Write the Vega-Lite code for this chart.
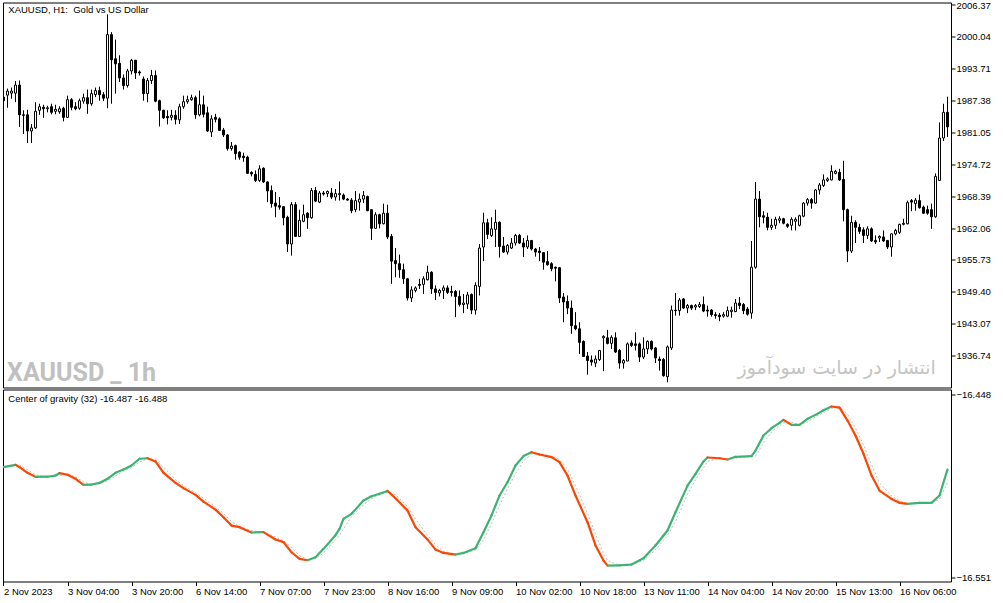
{
  "$schema": "https://vega.github.io/schema/vega-lite/v6.json",
  "background": "white",
  "padding": {"left": 2, "top": -0.5, "right": 0, "bottom": 0},
  "spacing": 2,
  "bounds": "flush",
  "config": {
    "view": {"stroke": "#000", "strokeWidth": 1},
    "font": "Liberation Sans",
    "axis": {"labelFont": "Liberation Sans", "labelFontSize": 9.5, "labelColor": "#000", "tickColor": "#000", "domain": false, "grid": false, "title": null, "labelOverlap": false, "labelFlush": false}
  },
  "datasets": {
    "candles": [
      {"t":0,"o":1988.0,"h":1988.5,"l":1986.7,"c":1987.3},{"t":1,"o":1988.4,"h":1989.7,"l":1985.9,"c":1989.2},{"t":2,"o":1988.8,"h":1989.9,"l":1987.7,"c":1989.2},{"t":3,"o":1988.8,"h":1991.2,"l":1987.0,"c":1990.4},
      {"t":4,"o":1990.4,"h":1991.3,"l":1982.1,"c":1984.5},{"t":5,"o":1984.5,"h":1985.4,"l":1980.7,"c":1984.4},{"t":6,"o":1984.5,"h":1985.5,"l":1978.9,"c":1981.3},{"t":7,"o":1981.3,"h":1982.7,"l":1978.9,"c":1981.9},
      {"t":8,"o":1981.9,"h":1987.0,"l":1981.7,"c":1985.2},{"t":9,"o":1985.4,"h":1986.7,"l":1984.5,"c":1986.1},{"t":10,"o":1986.0,"h":1986.5,"l":1983.9,"c":1985.7},{"t":11,"o":1985.7,"h":1986.3,"l":1985.0,"c":1985.9},
      {"t":12,"o":1986.1,"h":1986.7,"l":1984.6,"c":1985.0},{"t":13,"o":1985.2,"h":1986.5,"l":1984.6,"c":1985.6},{"t":14,"o":1985.1,"h":1986.2,"l":1984.7,"c":1985.7},{"t":15,"o":1985.8,"h":1986.1,"l":1983.2,"c":1984.0},
      {"t":16,"o":1984.0,"h":1988.3,"l":1983.9,"c":1987.5},{"t":17,"o":1987.5,"h":1987.8,"l":1985.4,"c":1986.0},{"t":18,"o":1986.1,"h":1987.0,"l":1985.4,"c":1985.7},{"t":19,"o":1985.8,"h":1987.7,"l":1985.5,"c":1987.3},
      {"t":20,"o":1987.2,"h":1988.7,"l":1986.7,"c":1987.9},{"t":21,"o":1987.9,"h":1989.5,"l":1984.7,"c":1986.7},{"t":22,"o":1986.7,"h":1989.5,"l":1986.3,"c":1988.7},{"t":23,"o":1988.5,"h":1989.9,"l":1988.0,"c":1989.3},
      {"t":24,"o":1989.3,"h":1990.1,"l":1987.3,"c":1988.5},{"t":25,"o":1988.5,"h":1989.0,"l":1987.2,"c":1987.8},{"t":26,"o":1987.8,"h":2004.4,"l":1985.8,"c":2000.4},{"t":27,"o":2000.4,"h":2000.9,"l":1986.7,"c":1995.4},
      {"t":28,"o":1995.6,"h":1999.4,"l":1988.7,"c":1994.6},{"t":29,"o":1994.7,"h":1996.3,"l":1991.0,"c":1991.8},{"t":30,"o":1991.8,"h":1992.5,"l":1989.5,"c":1990.3},{"t":31,"o":1990.3,"h":1993.6,"l":1989.9,"c":1993.2},
      {"t":32,"o":1993.2,"h":1995.6,"l":1992.5,"c":1995.3},{"t":33,"o":1995.3,"h":1995.4,"l":1991.6,"c":1992.8},{"t":34,"o":1993.0,"h":1993.3,"l":1992.3,"c":1992.8},{"t":35,"o":1991.6,"h":1992.1,"l":1987.3,"c":1988.7},
      {"t":36,"o":1988.7,"h":1991.8,"l":1987.0,"c":1991.3},{"t":37,"o":1991.3,"h":1993.4,"l":1990.6,"c":1992.3},{"t":38,"o":1992.3,"h":1993.3,"l":1987.0,"c":1987.2},{"t":39,"o":1987.3,"h":1987.5,"l":1982.2,"c":1985.4},
      {"t":40,"o":1985.4,"h":1985.5,"l":1983.7,"c":1983.9},{"t":41,"o":1984.2,"h":1985.4,"l":1982.6,"c":1983.9},{"t":42,"o":1984.0,"h":1985.5,"l":1983.4,"c":1984.4},{"t":43,"o":1984.4,"h":1985.4,"l":1982.6,"c":1983.6},
      {"t":44,"o":1983.5,"h":1986.7,"l":1982.7,"c":1986.1},{"t":45,"o":1986.1,"h":1988.3,"l":1985.7,"c":1987.1},{"t":46,"o":1987.1,"h":1988.3,"l":1986.7,"c":1987.5},{"t":47,"o":1987.5,"h":1988.5,"l":1987.3,"c":1987.9},
      {"t":48,"o":1987.9,"h":1988.3,"l":1983.7,"c":1984.5},{"t":49,"o":1984.5,"h":1989.3,"l":1984.2,"c":1986.5},{"t":50,"o":1986.5,"h":1988.3,"l":1984.0,"c":1984.6},{"t":51,"o":1984.9,"h":1986.1,"l":1981.1,"c":1981.3},
      {"t":52,"o":1981.1,"h":1984.4,"l":1980.1,"c":1983.7},{"t":53,"o":1984.0,"h":1984.7,"l":1983.0,"c":1983.6},{"t":54,"o":1983.7,"h":1984.0,"l":1981.3,"c":1981.4},{"t":55,"o":1981.5,"h":1981.9,"l":1980.1,"c":1980.5},
      {"t":56,"o":1980.5,"h":1980.7,"l":1977.4,"c":1977.8},{"t":57,"o":1977.8,"h":1979.1,"l":1977.4,"c":1978.3},{"t":58,"o":1978.4,"h":1978.6,"l":1975.6,"c":1976.8},{"t":59,"o":1977.1,"h":1977.3,"l":1975.6,"c":1976.1},
      {"t":60,"o":1976.3,"h":1977.0,"l":1975.2,"c":1976.0},{"t":61,"o":1976.1,"h":1976.4,"l":1972.8,"c":1972.9},{"t":62,"o":1973.1,"h":1973.3,"l":1972.3,"c":1972.8},{"t":63,"o":1972.7,"h":1973.5,"l":1971.2,"c":1971.5},
      {"t":64,"o":1971.5,"h":1974.5,"l":1971.2,"c":1973.8},{"t":65,"o":1973.9,"h":1974.1,"l":1971.0,"c":1971.2},{"t":66,"o":1971.2,"h":1971.3,"l":1967.2,"c":1969.4},{"t":67,"o":1969.5,"h":1970.5,"l":1966.1,"c":1966.9},
      {"t":68,"o":1967.0,"h":1969.2,"l":1964.2,"c":1966.4},{"t":69,"o":1966.5,"h":1968.2,"l":1965.7,"c":1966.2},{"t":70,"o":1966.3,"h":1966.4,"l":1962.6,"c":1964.1},{"t":71,"o":1964.2,"h":1964.5,"l":1957.3,"c":1958.9},
      {"t":72,"o":1958.9,"h":1967.2,"l":1956.6,"c":1966.7},{"t":73,"o":1966.7,"h":1967.2,"l":1960.3,"c":1960.4},{"t":74,"o":1960.4,"h":1965.7,"l":1960.3,"c":1963.6},{"t":75,"o":1963.4,"h":1966.7,"l":1963.2,"c":1964.7},
      {"t":76,"o":1965.0,"h":1965.2,"l":1961.9,"c":1964.1},{"t":77,"o":1964.1,"h":1970.0,"l":1963.9,"c":1969.5},{"t":78,"o":1969.5,"h":1970.2,"l":1967.2,"c":1967.4},{"t":79,"o":1967.2,"h":1969.4,"l":1967.0,"c":1969.0},
      {"t":80,"o":1969.0,"h":1969.4,"l":1968.5,"c":1968.8},{"t":81,"o":1968.9,"h":1969.5,"l":1968.2,"c":1969.3},{"t":82,"o":1969.0,"h":1970.0,"l":1967.8,"c":1968.2},{"t":83,"o":1968.2,"h":1969.8,"l":1967.5,"c":1968.9},
      {"t":84,"o":1968.7,"h":1971.3,"l":1967.5,"c":1968.9},{"t":85,"o":1968.6,"h":1968.9,"l":1967.6,"c":1967.8},{"t":86,"o":1967.8,"h":1968.0,"l":1967.5,"c":1967.6},{"t":87,"o":1967.6,"h":1968.0,"l":1965.0,"c":1965.5},
      {"t":88,"o":1965.7,"h":1969.4,"l":1965.2,"c":1967.5},{"t":89,"o":1967.2,"h":1968.9,"l":1965.5,"c":1967.8},{"t":90,"o":1967.8,"h":1969.4,"l":1967.0,"c":1968.5},{"t":91,"o":1968.3,"h":1968.5,"l":1965.4,"c":1965.5},
      {"t":92,"o":1965.7,"h":1965.7,"l":1959.7,"c":1962.0},{"t":93,"o":1962.0,"h":1965.2,"l":1961.9,"c":1964.7},{"t":94,"o":1964.7,"h":1964.9,"l":1962.0,"c":1962.9},{"t":95,"o":1962.9,"h":1966.9,"l":1962.8,"c":1965.0},
      {"t":96,"o":1965.0,"h":1966.7,"l":1959.9,"c":1960.3},{"t":97,"o":1960.4,"h":1960.9,"l":1951.0,"c":1955.5},{"t":98,"o":1955.6,"h":1958.1,"l":1952.3,"c":1955.0},{"t":99,"o":1955.0,"h":1956.8,"l":1952.2,"c":1953.8},
      {"t":100,"o":1953.8,"h":1955.0,"l":1951.0,"c":1952.0},{"t":101,"o":1952.0,"h":1952.1,"l":1947.7,"c":1948.2},{"t":102,"o":1948.2,"h":1950.5,"l":1947.4,"c":1949.8},{"t":103,"o":1949.7,"h":1950.5,"l":1949.3,"c":1950.2},
      {"t":104,"o":1950.9,"h":1952.0,"l":1950.0,"c":1950.7},{"t":105,"o":1950.9,"h":1952.5,"l":1949.0,"c":1952.0},{"t":106,"o":1951.8,"h":1954.6,"l":1951.7,"c":1953.3},{"t":107,"o":1953.3,"h":1953.5,"l":1949.0,"c":1950.0},
      {"t":108,"o":1950.0,"h":1950.7,"l":1947.8,"c":1949.3},{"t":109,"o":1949.2,"h":1950.0,"l":1948.5,"c":1949.7},{"t":110,"o":1949.7,"h":1950.7,"l":1948.0,"c":1950.2},{"t":111,"o":1950.2,"h":1950.7,"l":1949.0,"c":1949.3},
      {"t":112,"o":1949.5,"h":1950.6,"l":1948.5,"c":1949.3},{"t":113,"o":1949.5,"h":1949.8,"l":1944.4,"c":1948.5},{"t":114,"o":1948.5,"h":1949.7,"l":1946.5,"c":1946.9},{"t":115,"o":1946.9,"h":1949.0,"l":1945.2,"c":1947.2},
      {"t":116,"o":1947.0,"h":1949.4,"l":1946.0,"c":1948.8},{"t":117,"o":1948.9,"h":1949.1,"l":1945.0,"c":1945.8},{"t":118,"o":1945.8,"h":1951.3,"l":1944.9,"c":1950.7},{"t":119,"o":1950.5,"h":1958.9,"l":1948.7,"c":1958.1},
      {"t":120,"o":1958.3,"h":1965.1,"l":1955.5,"c":1963.1},{"t":121,"o":1963.1,"h":1963.9,"l":1959.9,"c":1960.8},{"t":122,"o":1960.6,"h":1964.2,"l":1960.3,"c":1961.9},{"t":123,"o":1961.8,"h":1965.7,"l":1958.3,"c":1963.2},
      {"t":124,"o":1963.2,"h":1963.4,"l":1956.2,"c":1958.4},{"t":125,"o":1958.5,"h":1960.3,"l":1957.1,"c":1957.3},{"t":126,"o":1957.3,"h":1958.9,"l":1956.8,"c":1958.6},{"t":127,"o":1958.1,"h":1960.1,"l":1957.9,"c":1959.1},
      {"t":128,"o":1959.1,"h":1960.9,"l":1958.6,"c":1960.6},{"t":129,"o":1960.6,"h":1960.9,"l":1958.9,"c":1959.1},{"t":130,"o":1959.1,"h":1960.1,"l":1956.3,"c":1958.3},{"t":131,"o":1958.3,"h":1960.6,"l":1957.9,"c":1959.6},
      {"t":132,"o":1959.6,"h":1959.7,"l":1957.6,"c":1957.9},{"t":133,"o":1957.9,"h":1958.1,"l":1956.4,"c":1957.3},{"t":134,"o":1957.5,"h":1958.3,"l":1955.5,"c":1957.2},{"t":135,"o":1957.2,"h":1957.3,"l":1953.8,"c":1955.3},
      {"t":136,"o":1955.4,"h":1957.5,"l":1954.6,"c":1954.8},{"t":137,"o":1955.0,"h":1955.3,"l":1953.5,"c":1954.0},{"t":138,"o":1954.3,"h":1954.4,"l":1951.5,"c":1954.1},{"t":139,"o":1954.2,"h":1954.3,"l":1947.2,"c":1948.2},
      {"t":140,"o":1948.4,"h":1949.2,"l":1943.4,"c":1947.4},{"t":141,"o":1947.5,"h":1948.7,"l":1945.0,"c":1946.2},{"t":142,"o":1946.2,"h":1947.7,"l":1941.1,"c":1942.7},{"t":143,"o":1942.7,"h":1945.4,"l":1941.8,"c":1942.1},
      {"t":144,"o":1942.1,"h":1943.4,"l":1937.1,"c":1939.4},{"t":145,"o":1939.6,"h":1939.8,"l":1936.5,"c":1936.6},{"t":146,"o":1936.7,"h":1937.5,"l":1933.0,"c":1935.8},{"t":147,"o":1935.9,"h":1936.8,"l":1934.8,"c":1935.5},
      {"t":148,"o":1935.3,"h":1936.8,"l":1934.5,"c":1936.1},{"t":149,"o":1936.0,"h":1937.9,"l":1935.7,"c":1937.8},{"t":150,"o":1940.3,"h":1940.8,"l":1933.7,"c":1940.6},{"t":151,"o":1940.3,"h":1941.9,"l":1939.0,"c":1939.2},
      {"t":152,"o":1939.2,"h":1940.8,"l":1938.1,"c":1940.4},{"t":153,"o":1940.3,"h":1941.4,"l":1937.3,"c":1937.5},{"t":154,"o":1937.8,"h":1938.1,"l":1934.2,"c":1935.3},{"t":155,"o":1935.3,"h":1936.1,"l":1934.2,"c":1935.8},
      {"t":156,"o":1935.7,"h":1939.4,"l":1935.7,"c":1939.1},{"t":157,"o":1939.3,"h":1939.8,"l":1938.5,"c":1938.8},{"t":158,"o":1939.1,"h":1941.4,"l":1937.8,"c":1938.8},{"t":159,"o":1939.1,"h":1939.4,"l":1935.5,"c":1936.5},
      {"t":160,"o":1936.5,"h":1940.4,"l":1936.1,"c":1938.1},{"t":161,"o":1938.1,"h":1939.8,"l":1937.1,"c":1939.6},{"t":162,"o":1939.6,"h":1939.8,"l":1937.8,"c":1938.1},{"t":163,"o":1938.3,"h":1938.5,"l":1935.3,"c":1936.3},
      {"t":164,"o":1936.1,"h":1936.6,"l":1933.8,"c":1935.8},{"t":165,"o":1936.0,"h":1936.3,"l":1932.6,"c":1932.8},{"t":166,"o":1932.6,"h":1938.8,"l":1931.5,"c":1938.5},{"t":167,"o":1938.3,"h":1946.7,"l":1937.9,"c":1945.8},
      {"t":168,"o":1945.8,"h":1949.2,"l":1944.7,"c":1945.7},{"t":169,"o":1945.7,"h":1948.2,"l":1944.7,"c":1947.8},{"t":170,"o":1948.0,"h":1948.2,"l":1946.0,"c":1946.2},{"t":171,"o":1946.2,"h":1947.0,"l":1945.2,"c":1946.7},
      {"t":172,"o":1946.7,"h":1946.9,"l":1945.8,"c":1946.2},{"t":173,"o":1946.4,"h":1947.0,"l":1945.8,"c":1946.7},{"t":174,"o":1946.5,"h":1947.4,"l":1946.2,"c":1946.9},{"t":175,"o":1946.9,"h":1948.5,"l":1945.4,"c":1945.6},
      {"t":176,"o":1945.8,"h":1946.7,"l":1944.5,"c":1945.6},{"t":177,"o":1945.8,"h":1946.0,"l":1944.5,"c":1944.9},{"t":178,"o":1944.9,"h":1945.4,"l":1944.1,"c":1944.7},{"t":179,"o":1944.8,"h":1945.2,"l":1943.6,"c":1944.5},
      {"t":180,"o":1944.6,"h":1945.4,"l":1944.3,"c":1944.9},{"t":181,"o":1944.6,"h":1946.5,"l":1944.4,"c":1945.7},{"t":182,"o":1945.5,"h":1946.5,"l":1944.3,"c":1945.8},{"t":183,"o":1945.5,"h":1948.0,"l":1945.4,"c":1947.2},
      {"t":184,"o":1947.2,"h":1948.4,"l":1946.0,"c":1946.7},{"t":185,"o":1946.9,"h":1947.2,"l":1945.0,"c":1945.7},{"t":186,"o":1946.0,"h":1946.4,"l":1944.7,"c":1945.0},{"t":187,"o":1945.2,"h":1959.5,"l":1944.1,"c":1954.3},
      {"t":188,"o":1954.3,"h":1971.2,"l":1954.0,"c":1967.8},{"t":189,"o":1967.8,"h":1969.4,"l":1962.2,"c":1964.3},{"t":190,"o":1964.5,"h":1965.4,"l":1963.0,"c":1964.2},{"t":191,"o":1964.2,"h":1965.1,"l":1961.6,"c":1962.2},
      {"t":192,"o":1962.2,"h":1963.9,"l":1961.7,"c":1962.6},{"t":193,"o":1962.6,"h":1964.3,"l":1961.9,"c":1963.8},{"t":194,"o":1963.6,"h":1964.4,"l":1963.0,"c":1963.9},{"t":195,"o":1963.9,"h":1964.1,"l":1962.8,"c":1963.0},
      {"t":196,"o":1962.8,"h":1963.0,"l":1962.1,"c":1962.4},{"t":197,"o":1962.6,"h":1964.2,"l":1961.6,"c":1963.8},{"t":198,"o":1963.4,"h":1964.2,"l":1961.6,"c":1963.8},{"t":199,"o":1962.6,"h":1964.7,"l":1962.4,"c":1964.5},
      {"t":200,"o":1964.4,"h":1967.2,"l":1964.2,"c":1967.0},{"t":201,"o":1967.0,"h":1968.0,"l":1966.5,"c":1967.7},{"t":202,"o":1967.7,"h":1968.0,"l":1965.9,"c":1967.0},{"t":203,"o":1967.0,"h":1969.8,"l":1966.9,"c":1969.6},
      {"t":204,"o":1969.6,"h":1971.0,"l":1968.7,"c":1970.6},{"t":205,"o":1970.5,"h":1972.7,"l":1970.2,"c":1971.6},{"t":206,"o":1971.5,"h":1972.1,"l":1971.2,"c":1971.8},{"t":207,"o":1971.6,"h":1974.5,"l":1971.5,"c":1973.3},
      {"t":208,"o":1972.9,"h":1973.6,"l":1972.7,"c":1973.3},{"t":209,"o":1973.1,"h":1973.8,"l":1971.4,"c":1971.6},{"t":210,"o":1971.7,"h":1975.4,"l":1963.4,"c":1965.7},{"t":211,"o":1965.7,"h":1965.9,"l":1955.3,"c":1957.5},
      {"t":212,"o":1957.5,"h":1964.5,"l":1957.1,"c":1963.2},{"t":213,"o":1963.2,"h":1963.6,"l":1959.1,"c":1962.2},{"t":214,"o":1962.2,"h":1962.9,"l":1960.9,"c":1961.4},{"t":215,"o":1961.7,"h":1962.2,"l":1959.1,"c":1960.6},
      {"t":216,"o":1960.6,"h":1962.4,"l":1959.9,"c":1961.9},{"t":217,"o":1961.9,"h":1962.2,"l":1959.3,"c":1959.5},{"t":218,"o":1959.6,"h":1960.6,"l":1958.9,"c":1959.3},{"t":219,"o":1960.1,"h":1960.6,"l":1959.3,"c":1960.4},
      {"t":220,"o":1960.3,"h":1961.6,"l":1959.3,"c":1959.5},{"t":221,"o":1959.6,"h":1959.7,"l":1957.9,"c":1958.3},{"t":222,"o":1958.3,"h":1961.0,"l":1956.4,"c":1960.9},{"t":223,"o":1960.9,"h":1961.9,"l":1960.6,"c":1961.6},
      {"t":224,"o":1961.2,"h":1962.9,"l":1960.9,"c":1962.8},{"t":225,"o":1962.8,"h":1963.9,"l":1962.6,"c":1963.0},{"t":226,"o":1962.9,"h":1967.5,"l":1962.8,"c":1967.1},{"t":227,"o":1967.5,"h":1967.8,"l":1965.4,"c":1967.2},
      {"t":228,"o":1966.9,"h":1968.0,"l":1965.5,"c":1967.6},{"t":229,"o":1967.5,"h":1968.7,"l":1965.9,"c":1966.1},{"t":230,"o":1966.2,"h":1966.5,"l":1964.9,"c":1965.0},{"t":231,"o":1965.7,"h":1966.5,"l":1964.7,"c":1965.0},
      {"t":232,"o":1965.7,"h":1966.9,"l":1961.9,"c":1964.3},{"t":233,"o":1964.3,"h":1972.9,"l":1964.1,"c":1972.3},{"t":234,"o":1971.5,"h":1983.0,"l":1971.5,"c":1979.9},{"t":235,"o":1979.9,"h":1986.7,"l":1979.3,"c":1985.0},
      {"t":236,"o":1985.0,"h":1988.1,"l":1980.1,"c":1982.1}
    ],
    "cog": [
      {"t":0,"v":-16.4887,"s":-16.4885},{"t":3,"v":-16.4874,"s":-16.4878},{"t":4,"v":-16.4887,"s":-16.4874},{"t":6,"v":-16.4919,"s":-16.4903},
      {"t":8,"v":-16.4942,"s":-16.4931},{"t":11,"v":-16.4941,"s":-16.4941},{"t":13,"v":-16.4934,"s":-16.4938},{"t":14,"v":-16.4921,"s":-16.4934},
      {"t":16,"v":-16.4930,"s":-16.4926},{"t":18,"v":-16.4953,"s":-16.4942},{"t":20,"v":-16.4987,"s":-16.4970},{"t":22,"v":-16.4985,"s":-16.4986},
      {"t":24,"v":-16.4976,"s":-16.4981},{"t":26,"v":-16.4953,"s":-16.4965},{"t":28,"v":-16.4919,"s":-16.4936},{"t":30,"v":-16.4900,"s":-16.4910},
      {"t":32,"v":-16.4878,"s":-16.4889},{"t":34,"v":-16.4840,"s":-16.4859},{"t":36,"v":-16.4837,"s":-16.4839},{"t":38,"v":-16.4855,"s":-16.4846},
      {"t":40,"v":-16.4919,"s":-16.4887},{"t":43,"v":-16.4976,"s":-16.4957},{"t":45,"v":-16.5005,"s":-16.4991},{"t":48,"v":-16.5043,"s":-16.5030},
      {"t":50,"v":-16.5081,"s":-16.5062},{"t":53,"v":-16.5126,"s":-16.5111},{"t":55,"v":-16.5169,"s":-16.5148},{"t":57,"v":-16.5216,"s":-16.5193},
      {"t":59,"v":-16.5225,"s":-16.5221},{"t":62,"v":-16.5255,"s":-16.5245},{"t":65,"v":-16.5253,"s":-16.5254},{"t":68,"v":-16.5294,"s":-16.5280},
      {"t":70,"v":-16.5309,"s":-16.5302},{"t":72,"v":-16.5366,"s":-16.5338},{"t":74,"v":-16.5403,"s":-16.5385},{"t":76,"v":-16.5411,"s":-16.5407},
      {"t":78,"v":-16.5394,"s":-16.5403},{"t":80,"v":-16.5347,"s":-16.5371},{"t":83,"v":-16.5270,"s":-16.5296},{"t":84,"v":-16.5235,"s":-16.5270},
      {"t":85,"v":-16.5178,"s":-16.5235},{"t":87,"v":-16.5150,"s":-16.5164},{"t":90,"v":-16.5075,"s":-16.5100},{"t":92,"v":-16.5051,"s":-16.5063},
      {"t":94,"v":-16.5037,"s":-16.5044},{"t":96,"v":-16.5021,"s":-16.5029},{"t":98,"v":-16.5062,"s":-16.5042},{"t":101,"v":-16.5131,"s":-16.5108},
      {"t":103,"v":-16.5225,"s":-16.5178},{"t":106,"v":-16.5294,"s":-16.5271},{"t":108,"v":-16.5351,"s":-16.5323},{"t":110,"v":-16.5370,"s":-16.5361},
      {"t":113,"v":-16.5379,"s":-16.5376},{"t":115,"v":-16.5370,"s":-16.5375},{"t":118,"v":-16.5343,"s":-16.5352},{"t":120,"v":-16.5253,"s":-16.5298},
      {"t":122,"v":-16.5159,"s":-16.5206},{"t":124,"v":-16.5047,"s":-16.5103},{"t":126,"v":-16.4972,"s":-16.5010},{"t":128,"v":-16.4878,"s":-16.4925},
      {"t":130,"v":-16.4825,"s":-16.4852},{"t":132,"v":-16.4803,"s":-16.4814},{"t":134,"v":-16.4816,"s":-16.4810},{"t":137,"v":-16.4831,"s":-16.4826},
      {"t":139,"v":-16.4859,"s":-16.4845},{"t":141,"v":-16.4934,"s":-16.4897},{"t":143,"v":-16.5047,"s":-16.4991},{"t":146,"v":-16.5197,"s":-16.5147},
      {"t":148,"v":-16.5328,"s":-16.5263},{"t":150,"v":-16.5413,"s":-16.5371},{"t":151,"v":-16.5441,"s":-16.5413},{"t":154,"v":-16.5440,"s":-16.5440},
      {"t":157,"v":-16.5435,"s":-16.5437},{"t":160,"v":-16.5400,"s":-16.5412},{"t":163,"v":-16.5328,"s":-16.5352},{"t":165,"v":-16.5272,"s":-16.5300},
      {"t":166,"v":-16.5244,"s":-16.5272},{"t":168,"v":-16.5141,"s":-16.5193},{"t":171,"v":-16.4991,"s":-16.5041},{"t":173,"v":-16.4925,"s":-16.4958},
      {"t":175,"v":-16.4855,"s":-16.4890},{"t":176,"v":-16.4833,"s":-16.4855},{"t":179,"v":-16.4837,"s":-16.4836},{"t":181,"v":-16.4844,"s":-16.4841},
      {"t":183,"v":-16.4829,"s":-16.4837},{"t":187,"v":-16.4825,"s":-16.4826},{"t":188,"v":-16.4794,"s":-16.4825},{"t":190,"v":-16.4709,"s":-16.4752},
      {"t":192,"v":-16.4668,"s":-16.4689},{"t":194,"v":-16.4638,"s":-16.4653},{"t":195,"v":-16.4621,"s":-16.4638},{"t":197,"v":-16.4649,"s":-16.4635},
      {"t":199,"v":-16.4649,"s":-16.4649},{"t":201,"v":-16.4615,"s":-16.4632},{"t":203,"v":-16.4593,"s":-16.4604},{"t":205,"v":-16.4567,"s":-16.4580},
      {"t":207,"v":-16.4546,"s":-16.4557},{"t":209,"v":-16.4552,"s":-16.4549},{"t":211,"v":-16.4625,"s":-16.4589},{"t":213,"v":-16.4709,"s":-16.4667},
      {"t":215,"v":-16.4812,"s":-16.4761},{"t":217,"v":-16.4934,"s":-16.4873},{"t":219,"v":-16.5019,"s":-16.4977},{"t":222,"v":-16.5066,"s":-16.5050},
      {"t":224,"v":-16.5088,"s":-16.5077},{"t":226,"v":-16.5094,"s":-16.5091},{"t":229,"v":-16.5088,"s":-16.5090},{"t":232,"v":-16.5088,"s":-16.5088},
      {"t":234,"v":-16.5047,"s":-16.5068},{"t":236,"v":-16.4900,"s":-16.4974}
    ]
  },
  "vconcat": [
    {
      "width": 948,
      "height": 385,
      "layer": [
        {
          "data": {"name": "candles"},
          "mark": {"type": "rule", "color": "#000", "strokeWidth": 1, "clip": true},
          "encoding": {
            "x": {"field": "t", "type": "quantitative", "scale": {"domain": [-0.125, 236.875], "nice": false, "zero": false, "padding": 0}, "axis": null},
            "y": {
              "field": "l", "type": "quantitative",
              "scale": {"domain": [1930.46, 2006.76], "nice": false, "zero": false},
              "axis": {
                "orient": "right",
                "values": [1936.74, 1943.07, 1949.40, 1955.73, 1962.06, 1968.39, 1974.72, 1981.05, 1987.38, 1993.71, 2000.04, 2006.37],
                "tickCount": 30, "format": ".2f", "tickSize": 4, "labelPadding": 1,
                "labelOffset": {"condition": {"test": "datum.value > 2006", "value": 1.5}, "value": 0}
              }
            },
            "y2": {"field": "h"}
          }
        },
        {
          "data": {"name": "candles"},
          "mark": {"type": "bar", "width": 2, "stroke": "#000", "strokeWidth": 1, "clip": true},
          "encoding": {
            "x": {"field": "t", "type": "quantitative"},
            "y": {"field": "o", "type": "quantitative"},
            "y2": {"field": "c"},
            "fill": {"condition": {"test": "datum.c >= datum.o", "value": "#ffffff"}, "value": "#000000"}
          }
        },
        {
          "data": {"values": [{"label": "XAUUSD, H1:\u00a0 Gold vs US Dollar"}]},
          "mark": {"type": "text", "align": "left", "baseline": "middle", "font": "Liberation Sans", "fontSize": 9.5, "color": "#000"},
          "encoding": {"x": {"datum": 1.2}, "y": {"datum": 2005.2}, "text": {"field": "label"}}
        },
        {
          "data": {"values": [{"label": "XAUUSD _ 1h"}]},
          "mark": {"type": "text", "align": "left", "baseline": "alphabetic", "font": "Roboto", "fontWeight": "bold", "fontSize": 25, "color": "#c0c0c0"},
          "encoding": {"x": {"datum": 0.9}, "y": {"datum": 1931.83}, "text": {"field": "label"}}
        },
        {
          "data": {"values": [{"label": "انتشار در سایت سودآموز"}]},
          "mark": {"type": "text", "align": "right", "baseline": "middle", "font": "DejaVu Sans", "fontSize": 19, "color": "#c4c4c4"},
          "encoding": {"x": {"datum": 233.1}, "y": {"datum": 1934.41}, "text": {"field": "label"}}
        }
      ]
    },
    {
      "width": 948,
      "height": 192,
      "data": {"name": "cog"},
      "layer": [
        {
          "mark": {"type": "line", "color": "#bdbdbd", "strokeWidth": 1, "strokeDash": [2, 2], "clip": true},
          "encoding": {
            "x": {
              "field": "t", "type": "quantitative",
              "scale": {"domain": [-0.125, 236.875], "nice": false, "zero": false, "padding": 0},
              "axis": {
                "values": [0, 16, 32, 48, 64, 80, 96, 112, 128, 144, 160, 176, 192, 208, 224],
                "tickCount": 40,
                "labelExpr": "['2 Nov 2023','3 Nov 04:00','3 Nov 20:00','6 Nov 14:00','7 Nov 07:00','7 Nov 23:00','8 Nov 16:00','9 Nov 09:00','10 Nov 02:00','10 Nov 18:00','13 Nov 11:00','14 Nov 04:00','14 Nov 20:00','15 Nov 13:00','16 Nov 06:00'][round(datum.value / 16)]",
                "labelAlign": "left", "labelBaseline": "top", "tickSize": 4, "labelPadding": 1
              }
            },
            "y": {
              "field": "s", "type": "quantitative",
              "scale": {"domain": [-16.55307, -16.44502], "nice": false, "zero": false},
              "axis": {"orient": "right", "values": [-16.551, -16.448], "format": ".3f", "tickSize": 4, "labelPadding": 1}
            }
          }
        },
        {
          "transform": [
            {"window": [{"op": "lead", "field": "t", "as": "t2"}, {"op": "lead", "field": "v", "as": "v2"}], "sort": [{"field": "t"}]},
            {"filter": "datum.t2 != null"}
          ],
          "mark": {"type": "rule", "strokeWidth": 2.2, "strokeCap": "round", "clip": true},
          "encoding": {
            "x": {"field": "t", "type": "quantitative"},
            "x2": {"field": "t2"},
            "y": {"field": "v", "type": "quantitative"},
            "y2": {"field": "v2"},
            "color": {"condition": {"test": "datum.v2 >= datum.v", "value": "#3cb371"}, "value": "#ff4500"}
          }
        },
        {
          "data": {"values": [{"label": "Center of gravity (32) -16.487 -16.488"}]},
          "mark": {"type": "text", "align": "left", "baseline": "middle", "font": "Liberation Sans", "fontSize": 9.5, "color": "#000"},
          "encoding": {"x": {"datum": 1.2}, "y": {"datum": -16.4506}, "text": {"field": "label"}}
        }
      ]
    }
  ]
}
